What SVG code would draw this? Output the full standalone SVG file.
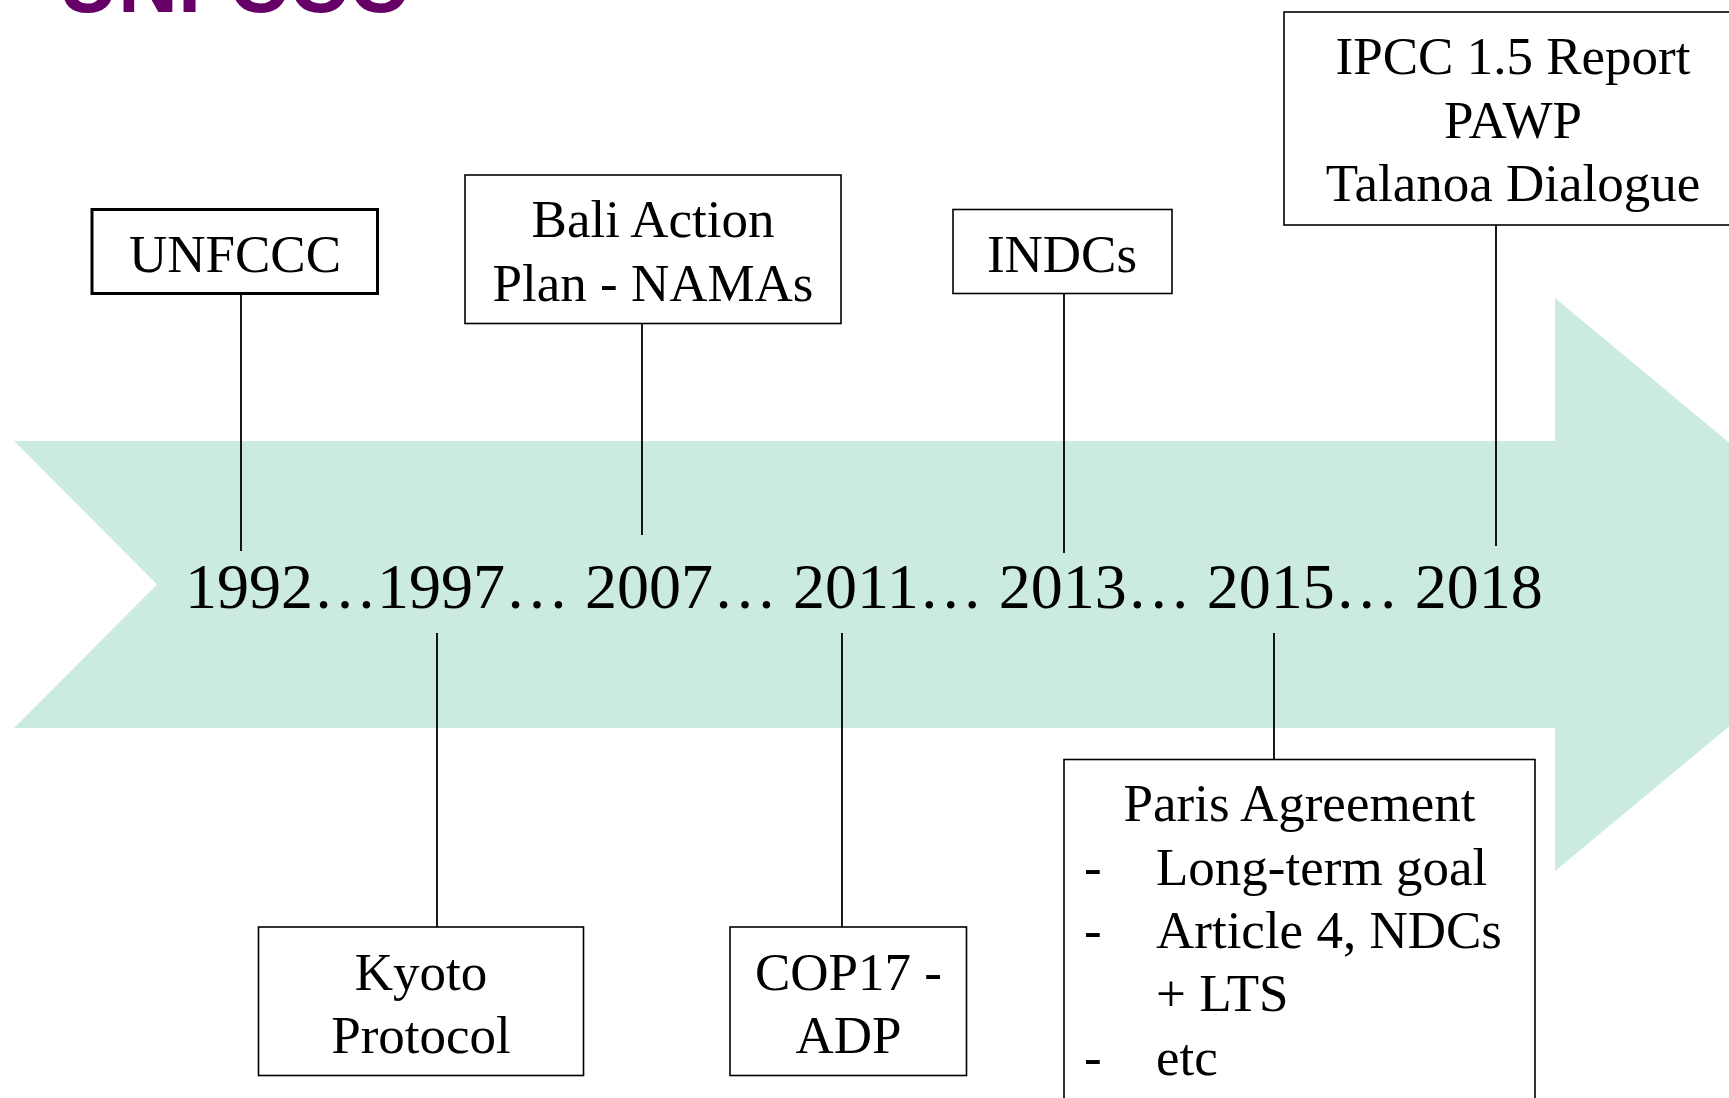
<svg xmlns="http://www.w3.org/2000/svg" width="1729" height="1098" viewBox="0 0 1729 1098">
<style>
.box{fill:#fff;stroke:#000;stroke-width:1.6}
.bold{stroke-width:3}
.t{font-family:"Liberation Serif","Times New Roman",serif;font-size:53px;fill:#000}
.c{text-anchor:middle}
.conn line{stroke:#000;stroke-width:1.8}
</style>
<rect width="1729" height="1098" fill="#fff"/>
<text x="58" y="12" font-family="'Liberation Sans',Arial,sans-serif" font-weight="bold" font-size="83" fill="#660066">UNFCCC</text>
<g id="arrow">
<polygon points="14,441 1555,441 1555,298 1900,584.5 1555,871 1555,728 14,728 157,584.5" fill="#CCEBDF"/>
</g>
<g id="years">
<text class="t" x="185" y="608" style="font-size:64px">1992…1997… 2007… 2011… 2013… 2015… 2018</text>
</g>
<g class="conn" id="connectors">
<line x1="241" y1="294" x2="241" y2="551"/>
<line x1="642" y1="324" x2="642" y2="535"/>
<line x1="1064" y1="294" x2="1064" y2="553"/>
<line x1="1496" y1="225" x2="1496" y2="546"/>
<line x1="437" y1="633" x2="437" y2="927"/>
<line x1="842" y1="633" x2="842" y2="927"/>
<line x1="1274" y1="633" x2="1274" y2="760"/>
</g>
<g id="n-unfccc">
<rect class="box bold" x="92" y="209.5" width="285.5" height="84"/>
<text class="t c" x="235" y="272">UNFCCC</text>
</g>
<g id="n-bali">
<rect class="box" x="465" y="175" width="376" height="148.5"/>
<text class="t c" x="653" y="237">Bali Action</text>
<text class="t c" x="653" y="301">Plan - NAMAs</text>
</g>
<g id="n-indcs">
<rect class="box" x="953" y="209.5" width="219" height="84"/>
<text class="t c" x="1062" y="272">INDCs</text>
</g>
<g id="n-ipcc">
<rect class="box" x="1284" y="12" width="460" height="213"/>
<text class="t c" x="1513" y="74">IPCC 1.5 Report</text>
<text class="t c" x="1513" y="137.5">PAWP</text>
<text class="t c" x="1513" y="201">Talanoa Dialogue</text>
</g>
<g id="n-kyoto">
<rect class="box" x="258.5" y="927" width="325" height="148.5"/>
<text class="t c" x="421" y="990">Kyoto</text>
<text class="t c" x="421" y="1053">Protocol</text>
</g>
<g id="n-cop17">
<rect class="box" x="730" y="927" width="236.5" height="148.5"/>
<text class="t c" x="848.5" y="990">COP17 -</text>
<text class="t c" x="848.5" y="1053">ADP</text>
</g>
<g id="n-paris">
<rect class="box" x="1064" y="759.5" width="471" height="360"/>
<text class="t c" x="1299.5" y="821">Paris Agreement</text>
<text class="t" x="1084" y="885">-</text>
<text class="t" x="1156" y="885">Long-term goal</text>
<text class="t" x="1084" y="948">-</text>
<text class="t" x="1156" y="948">Article 4, NDCs</text>
<text class="t" x="1156" y="1011">+ LTS</text>
<text class="t" x="1084" y="1075">-</text>
<text class="t" x="1156" y="1075">etc</text>
</g>
</svg>
